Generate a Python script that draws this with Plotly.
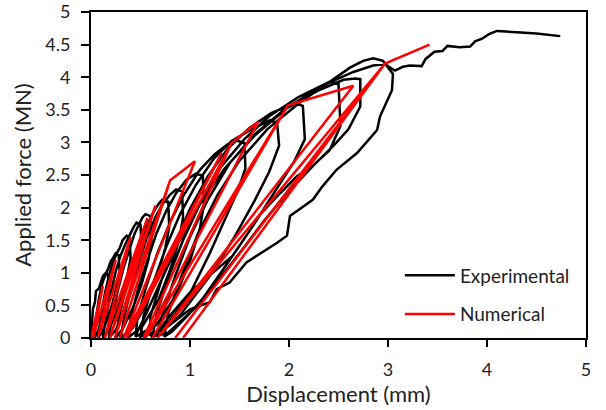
import plotly.graph_objects as go

# experimental cyclic test (load / unload loops)
exp_disp = [0, 0.01, 0.02, 0.04, 0.05, 0.08, 0.1, 0.12, 0.15,
            0.17, 0.18, 0.16, 0.13, 0.09, 0.05, 0.03,
            0.05, 0.08, 0.11, 0.14, 0.17, 0.2, 0.22, 0.25,
            0.28, 0.29, 0.26, 0.22, 0.17, 0.11, 0.07,
            0.1, 0.14, 0.18, 0.22, 0.26, 0.29, 0.32, 0.36,
            0.39, 0.4, 0.37, 0.32, 0.25, 0.18, 0.12,
            0.15, 0.2, 0.25, 0.3, 0.35, 0.39, 0.43, 0.46,
            0.5, 0.51, 0.48, 0.42, 0.34, 0.25, 0.18,
            0.21, 0.27, 0.33, 0.39, 0.44, 0.49, 0.52, 0.55,
            0.6, 0.61, 0.58, 0.51, 0.42, 0.32, 0.25,
            0.28, 0.35, 0.42, 0.5, 0.57, 0.63, 0.68, 0.72,
            0.78, 0.79, 0.75, 0.67, 0.56, 0.42, 0.3,
            0.33, 0.4, 0.48, 0.56, 0.65, 0.72, 0.8, 0.86,
            0.92, 0.93, 0.89, 0.8, 0.68, 0.52, 0.38,
            0.4, 0.48, 0.57, 0.66, 0.76, 0.86, 0.96, 1.06,
            1.13, 1.14, 1.1, 1.0, 0.86, 0.66, 0.45,
            0.47, 0.56, 0.67, 0.8, 0.94, 1.1, 1.25, 1.38, 1.47,
            1.55, 1.56, 1.48, 1.35, 1.2, 0.98, 0.72, 0.5,
            0.53, 0.63, 0.76, 0.9, 1.06, 1.24, 1.42, 1.62, 1.81,
            1.88, 1.9, 1.8, 1.65, 1.45, 1.2, 0.9, 0.6,
            0.6, 0.71, 0.85, 1.0, 1.18, 1.38, 1.6, 1.82, 2.06,
            2.14, 2.16, 2.05, 1.88, 1.65, 1.38, 1.08, 0.78, 0.62,
            0.66, 0.78, 0.93, 1.1, 1.3, 1.55, 1.8, 2.1, 2.41,
            2.5, 2.52, 2.41, 2.24, 2.08, 1.91, 1.7, 1.57, 1.43, 1.23,
            1.0, 0.83, 0.7, 0.66,
            0.72, 0.85, 1.0, 1.18, 1.4, 1.65, 1.95, 2.3, 2.55, 2.67,
            2.72, 2.72, 2.6, 2.45, 2.25, 2.0, 1.75, 1.5, 1.25, 1.0, 0.82, 0.74,
            0.78, 0.92, 1.08, 1.28, 1.5, 1.78, 2.1, 2.4, 2.62, 2.75, 2.85, 2.95,
            3.05, 3.04, 2.92, 2.89, 2.69, 2.48, 2.34, 2.24, 2.01, 1.98, 1.88,
            1.57, 1.4, 1.27, 1.2, 1.0, 0.87, 0.73, 0.6, 0.45,
            0.55, 0.7, 0.88, 1.1, 1.35, 1.65, 2.0, 2.35, 2.65, 2.85, 2.97,
            3.07, 3.15, 3.22, 3.34, 3.38, 3.47, 3.55, 3.6, 3.72, 3.83, 3.88,
            3.95, 4.02, 4.1, 4.3, 4.5, 4.74]
exp_force = [0, 0.25, 0.45, 0.55, 0.72, 0.76, 0.85, 0.95, 1.0,
             0.97, 0.75, 0.6, 0.4, 0.18, 0.04, 0,
             0.3, 0.6, 0.82, 0.95, 1.05, 1.18, 1.22, 1.3,
             1.27, 1.0, 0.8, 0.55, 0.3, 0.08, 0,
             0.35, 0.68, 0.95, 1.15, 1.3, 1.38, 1.5, 1.57,
             1.54, 1.22, 0.98, 0.68, 0.38, 0.12, 0,
             0.3, 0.7, 1.02, 1.27, 1.45, 1.58, 1.7, 1.77,
             1.74, 1.4, 1.12, 0.78, 0.42, 0.12, 0,
             0.3, 0.72, 1.08, 1.38, 1.6, 1.76, 1.85, 1.9,
             1.87, 1.5, 1.2, 0.82, 0.45, 0.14, 0,
             0.3, 0.75, 1.12, 1.48, 1.74, 1.93, 2.05, 2.12,
             2.09, 1.7, 1.38, 0.95, 0.52, 0.15, 0,
             0.28, 0.75, 1.15, 1.52, 1.85, 2.05, 2.2, 2.28,
             2.25, 1.85, 1.5, 1.05, 0.58, 0.18, 0.01,
             0.3, 0.78, 1.2, 1.6, 1.95, 2.22, 2.42, 2.52,
             2.49, 2.05, 1.68, 1.18, 0.66, 0.2, 0.02,
             0.32, 0.8, 1.3, 1.78, 2.2, 2.58, 2.82, 2.97, 3.03,
             2.99, 2.6, 2.25, 1.8, 1.3, 0.62, 0.12, 0.02,
             0.33, 0.85, 1.4, 1.9, 2.35, 2.75, 3.02, 3.2, 3.34,
             3.3, 2.95, 2.55, 2.1, 1.55, 0.95, 0.35, 0.03,
             0.33, 0.88, 1.45, 1.98, 2.48, 2.9, 3.22, 3.45, 3.6,
             3.56, 3.05, 2.7, 2.3, 1.75, 1.15, 0.5, 0.08, 0.02,
             0.35, 0.92, 1.5, 2.05, 2.6, 3.05, 3.4, 3.7, 3.93,
             3.9, 3.25, 2.88, 2.64, 2.48, 2.22, 1.88, 1.57, 1.26, 1.0,
             0.7, 0.4, 0.15, 0.02,
             0.35, 0.95, 1.55, 2.12, 2.68, 3.12, 3.5, 3.8, 3.96, 3.98,
             3.97, 3.55, 3.2, 2.95, 2.65, 2.25, 1.8, 1.3, 0.82, 0.38, 0.1, 0.02,
             0.38, 0.98, 1.6, 2.2, 2.72, 3.2, 3.6, 3.92, 4.15, 4.25, 4.29, 4.25,
             4.05, 3.8, 3.4, 3.19, 2.84, 2.58, 2.33, 2.12, 1.87, 1.57, 1.46,
             1.16, 0.85, 0.75, 0.55, 0.44, 0.29, 0.12, 0.06, 0.04,
             0.35, 0.85, 1.45, 2.05, 2.6, 3.1, 3.55, 3.88, 4.08, 4.18, 4.2,
             4.1, 4.16, 4.18, 4.17, 4.28, 4.39, 4.4, 4.48, 4.46, 4.47, 4.55,
             4.59, 4.66, 4.71, 4.69, 4.67, 4.63]

# numerical model: straight load / unload segments
num_disp = [0, 0.12, 0.02, 0.25, 0.07, 0.4, 0.14, 0.57, 0.19, 0.65, 0.24,
            0.8, 0.29, 0.8, 1.05, 0.33, 1.32, 0.36, 1.42, 0.53, 1.42, 1.69,
            0.55, 1.99, 0.62, 1.99, 2.65, 0.67, 2.97, 0.85, 2.97, 0.93,
            2.97, 3.42]
num_force = [0, 0.8, 0, 1.2, 0, 1.55, 0, 1.84, 0, 2.03, 0,
             2.42, 0, 2.42, 2.71, 0, 2.84, 0, 2.99, 0, 2.99, 3.32,
             0, 3.57, 0, 3.57, 3.87, 0, 4.21, 0, 4.21, 0,
             4.21, 4.5]

x_ticks = [0, 1, 2, 3, 4, 5]
y_ticks = [0, 0.5, 1, 1.5, 2, 2.5, 3, 3.5, 4, 4.5, 5]

fig = go.Figure()
fig.add_trace(go.Scatter(x=exp_disp, y=exp_force, mode="lines", name="Experimental",
                         legendgroup="a", line=dict(color="black", width=2.5)))
fig.add_trace(go.Scatter(x=num_disp, y=num_force, mode="lines", name="Numerical",
                         legendgroup="b", line=dict(color="red", width=2.5)))

fnt = "Lato, Liberation Sans, sans-serif"
fig.update_layout(
    width=606, height=410,
    margin=dict(l=91, r=20, t=12, b=72),
    paper_bgcolor="white", plot_bgcolor="white",
    font=dict(family=fnt, size=18, color="#222"),
    showlegend=True,
    legend=dict(x=0.624, y=0.25, xanchor="left", yanchor="top",
                bgcolor="rgba(0,0,0,0)", font=dict(size=19),
                tracegroupgap=11, itemwidth=50),
    xaxis=dict(range=[0, 5], tickvals=x_ticks, showgrid=False, zeroline=False,
               automargin=False, ticklabeloverflow="allow",
               showline=True, linecolor="black", linewidth=2, mirror=True,
               ticks="outside", ticklen=7, tickwidth=2, tickcolor="black",
               ticklabelstandoff=7,
               title=dict(text="Displacement (mm)", font=dict(size=22), standoff=6)),
    yaxis=dict(range=[0, 5], tickvals=y_ticks, showgrid=False, zeroline=False,
               automargin=False, ticklabeloverflow="allow",
               showline=True, linecolor="black", linewidth=2, mirror=True,
               ticks="outside", ticklen=8, tickwidth=2, tickcolor="black",
               ticklabelstandoff=7,
               title=dict(text="Applied force (MN)", font=dict(size=22), standoff=8)),
)

# page body has a default 8px margin; drop it so the chart sits at the corner
fig.write_html("out.html", config={"displayModeBar": False},
               post_script="document.body.style.margin='0';")
